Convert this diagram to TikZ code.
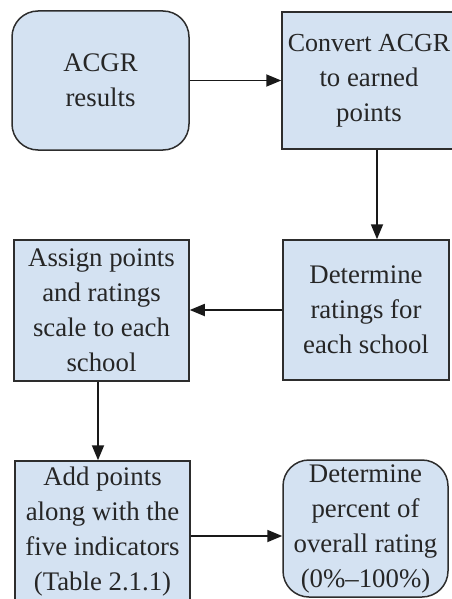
\documentclass[tikz,border=0pt]{standalone}
\usepackage{fontspec}
\setmainfont{Liberation Serif}
\usetikzlibrary{arrows.meta}
\definecolor{boxfill}{RGB}{212,226,242}
\definecolor{boxline}{RGB}{45,45,45}
\begin{document}
\begin{tikzpicture}[x=1pt,y=-1pt,
  base/.style={draw=boxline,fill=boxfill,line width=1.5pt,align=center,
    inner sep=0pt,font=\fontsize{26.8}{35}\selectfont,text=black!85},
  rbox/.style={base,rounded corners=26pt},
  sbox/.style={base},
  arr/.style={draw=black!90,line width=1.8pt,-{Triangle[length=15pt,width=12pt]}}]
\useasboundingbox (0,0) rectangle (451,599);
\node[rbox,minimum width=177pt,minimum height=139pt] (acgr) at (100.5,80.5) {ACGR\\results};
\node[sbox,minimum width=174pt,minimum height=137pt] (conv) at (369,80.5) {\fontsize{26}{35}\selectfont Convert ACGR\\to earned\\points};
\node[sbox,minimum width=166pt,minimum height=140pt] (det) at (366,310) {Determine\\ratings for\\each school};
\node[sbox,minimum width=175pt,minimum height=141pt] (asg) at (101.5,310.5) {Assign points\\and ratings\\scale to each\\school};
\node[sbox,minimum width=175pt,minimum height=142pt] (add) at (102.5,532) {Add points\\along with the\\five indicators\\(Table 2.1.1)};
\node[rbox,minimum width=165pt,minimum height=137pt] (perc) at (365.5,528.5) {Determine\\percent of\\overall rating\\(0\%–100\%)};
\draw[arr] (acgr.east) -- (acgr.east -| conv.west);
\draw[arr] ([xshift=8pt]conv.south) -- ([xshift=8pt]conv.south |- det.north);
\draw[arr] (det.west) -- (det.west -| asg.east);
\draw[arr] ([xshift=-3.5pt]asg.south) -- ([xshift=-3.5pt]asg.south |- add.north);
\draw[arr] ([yshift=-4pt]add.east) -- ([yshift=-4pt]add.east -| perc.west);
\end{tikzpicture}
\end{document}
